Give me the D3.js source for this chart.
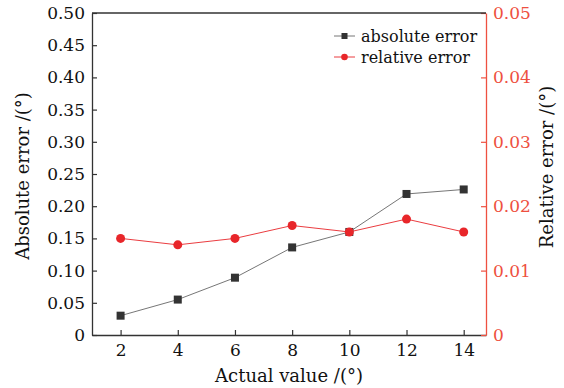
<!DOCTYPE html>
<html>
<head>
<meta charset="utf-8">
<script src="https://cdn.jsdelivr.net/npm/d3@7"></script>
<style>
  html, body { margin: 0; padding: 0; background: #fff; }
  svg { display: block; font-family: "DejaVu Serif", serif; }
</style>
</head>
<body>
<svg id="chart" width="564" height="388"></svg>
<script>
// Data
const actual   = [2, 4, 6, 8, 10, 12, 14];
const absError = [0.030, 0.055, 0.089, 0.136, 0.160, 0.219, 0.226];
const relError = [0.015, 0.014, 0.015, 0.017, 0.016, 0.018, 0.016];
const xTicks   = [2, 4, 6, 8, 10, 12, 14];
const yTicks   = [0, 0.05, 0.10, 0.15, 0.20, 0.25, 0.30, 0.35, 0.40, 0.45, 0.50];
const y2Ticks  = [0, 0.01, 0.02, 0.03, 0.04, 0.05];

const BLACK = "#333";
const LINE_GRAY = "#666";
const RED = "#e8262a";
const AXIS_RED = "#ee5040";

// Layout
const MARGIN = { top: 13, right: 78, bottom: 53, left: 92 };
const W = 564, H = 388;
const iW = W - MARGIN.left - MARGIN.right;
const iH = H - MARGIN.top - MARGIN.bottom;

const svg = d3.select("#chart");
const root = svg.append("g").attr("transform", `translate(${MARGIN.left},${MARGIN.top})`);

const x  = d3.scaleLinear().domain([1, 14.78]).range([0, iW]);
const y  = d3.scaleLinear().domain([0, 0.5]).range([iH, 0]);
const y2 = d3.scaleLinear().domain([0, 0.05]).range([iH, 0]);

const fmtY = d => d === 0 ? "0" : d3.format(".2f")(d);

// Axes
const xAxisG = root.append("g").attr("transform", `translate(0,${iH})`)
  .call(d3.axisBottom(x).tickValues(xTicks).tickSizeInner(-5).tickSizeOuter(0).tickPadding(7));
const yAxisG = root.append("g")
  .call(d3.axisLeft(y).tickValues(yTicks).tickFormat(fmtY).tickSizeInner(-5).tickSizeOuter(0).tickPadding(7));
const y2AxisG = root.append("g").attr("transform", `translate(${iW},0)`)
  .call(d3.axisRight(y2).tickValues(y2Ticks).tickFormat(fmtY)
    .tickSizeInner(-5).tickSizeOuter(0).tickPadding(7));

[xAxisG, yAxisG].forEach(g => {
  g.select(".domain").attr("stroke", BLACK).attr("stroke-width", 1.3);
  g.selectAll(".tick line").attr("stroke", BLACK).attr("stroke-width", 1.2);
  g.selectAll("text").attr("fill", "#111").attr("font-size", "17px").attr("font-family", "DejaVu Serif");
});
y2AxisG.select(".domain").attr("stroke", AXIS_RED).attr("stroke-width", 1.3);
y2AxisG.selectAll(".tick line").attr("stroke", AXIS_RED).attr("stroke-width", 1.2);
y2AxisG.selectAll("text").attr("fill", AXIS_RED).attr("font-size", "17px").attr("font-family", "DejaVu Serif");
xAxisG.selectAll("text").attr("dy", "0.85em");

// Top frame line
root.append("line")
  .attr("x1", 0).attr("x2", iW).attr("y1", 0).attr("y2", 0)
  .attr("stroke", BLACK).attr("stroke-width", 1.3);

// Series
const lineAbs = d3.line().x((d, i) => x(actual[i])).y(d => y(d));
const lineRel = d3.line().x((d, i) => x(actual[i])).y(d => y2(d));

root.append("path").attr("d", lineRel(relError))
  .attr("fill", "none").attr("stroke", RED).attr("stroke-width", 0.9);
root.append("path").attr("d", lineAbs(absError))
  .attr("fill", "none").attr("stroke", LINE_GRAY).attr("stroke-width", 0.9);

root.selectAll(".sq").data(absError).join("rect").attr("class", "sq")
  .attr("x", (d, i) => x(actual[i]) - 4).attr("y", d => y(d) - 4)
  .attr("width", 8).attr("height", 8).attr("fill", BLACK);

root.selectAll(".dot").data(relError).join("circle").attr("class", "dot")
  .attr("cx", (d, i) => x(actual[i])).attr("cy", d => y2(d))
  .attr("r", 4.5).attr("fill", RED);

// Legend
const legend = svg.append("g").attr("transform", "translate(334,36)");
const items = [
  { label: "absolute error", color: LINE_GRAY, mark: "sq" },
  { label: "relative error", color: RED, mark: "dot" }
];
items.forEach((it, i) => {
  const g = legend.append("g").attr("transform", `translate(0,${i * 21})`);
  g.append("line").attr("x1", 0).attr("x2", 21).attr("stroke", it.color).attr("stroke-width", 0.9);
  if (it.mark === "sq") {
    g.append("rect").attr("x", 7.5).attr("y", -3).attr("width", 6).attr("height", 6).attr("fill", BLACK);
  } else {
    g.append("circle").attr("cx", 10.5).attr("cy", 0).attr("r", 3.3).attr("fill", RED);
  }
  g.append("text").attr("x", 27).attr("dy", "0.35em")
    .attr("font-size", "16px").attr("fill", "#111").text(it.label);
});

// Axis titles
svg.append("text")
  .attr("transform", `translate(${W / 2 + 7},${H - 6})`)
  .attr("text-anchor", "middle").attr("font-size", "18px").attr("fill", "#111")
  .text("Actual value /(°)");

svg.append("text")
  .attr("transform", `translate(29,${MARGIN.top + iH / 2 + 2}) rotate(-90)`)
  .attr("text-anchor", "middle").attr("font-size", "18px").attr("fill", "#111")
  .text("Absolute error /(°)");

svg.append("text")
  .attr("transform", `translate(553,${MARGIN.top + iH / 2 - 7}) rotate(-90)`)
  .attr("text-anchor", "middle").attr("font-size", "18px").attr("fill", "#111")
  .text("Relative error /(°)");
</script>
</body>
</html>
